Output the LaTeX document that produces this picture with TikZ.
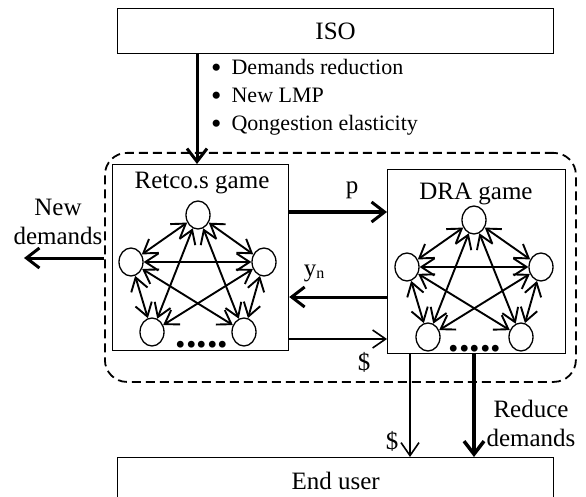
\documentclass[tikz,border=0pt]{standalone}
\usepackage{fontspec}
\usepackage{graphicx}
\setmainfont{Liberation Serif}
\usetikzlibrary{arrows.meta,shapes.geometric}
\newcommand{\bigbul}{\raisebox{-0.14em}{\scalebox{1.35}{\textbullet}}}
\begin{document}
\begin{tikzpicture}[x=1pt,y=-1pt,
  box/.style={draw,line width=1.2pt,inner sep=0pt,anchor=north west},
  gnode/.style={draw,ellipse,line width=1.3pt,minimum width=24pt,minimum height=28pt,inner sep=0pt},
  gedge/.style={line width=1.9pt,{Straight Barb[length=13pt,width=17pt]}-{Straight Barb[length=13pt,width=17pt]}},
  big/.style={font=\fontsize{25}{29}\selectfont},
  small/.style={font=\fontsize{22}{28}\selectfont},
  thickarrow/.style={line width=3pt,-{Straight Barb[length=13pt,width=20pt]}},
  thinarrow/.style={line width=1.6pt,-{Straight Barb[length=13pt,width=18pt]}},
  dots/.style={font=\fontsize{42}{42}\selectfont\bfseries,inner sep=0pt,anchor=base},
]
\useasboundingbox (0,0) rectangle (586,497);
% big boxes
\node[box,minimum width=436pt,minimum height=45pt,big] (iso) at (117,8) {ISO};
\node[box,minimum width=436pt,minimum height=46pt,big] (eu) at (117,457) {End user};
% dashed group
\node[draw,dash pattern=on 9pt off 5pt,line width=1.8pt,rounded corners=22pt,
      minimum width=471pt,minimum height=229pt,anchor=north west,inner sep=0pt] (grp) at (104,152) {};
% game boxes
\node[box,minimum width=176pt,minimum height=186pt] (retco) at (112,164) {};
\node[box,minimum width=178pt,minimum height=184pt] (dra) at (387,169) {};
\node[big,inner sep=0pt] (rtitle) at (202,183) {Retco.s game};
\node[big,inner sep=0pt] (dtitle) at (476,194) {DRA game};
% Retco graph
\node[gnode] (rT) at (198,215) {};
\node[gnode] (rL) at (131,262) {};
\node[gnode] (rR) at (264,262) {};
\node[gnode] (rBL) at (152,332) {};
\node[gnode] (rBR) at (244,332) {};
\node[dots] (rdots) at (202,347) {.....};
\foreach \a/\b in {T/L,T/R,L/R,L/BL,R/BR,T/BL,T/BR,L/BR,R/BL}
  \draw[gedge] (r\a) -- (r\b);
% DRA graph
\node[gnode] (dT) at (474,220) {};
\node[gnode] (dL) at (407,267) {};
\node[gnode] (dR) at (541,267) {};
\node[gnode] (dBL) at (428,337) {};
\node[gnode] (dBR) at (521,337) {};
\node[dots] (ddots) at (475,351) {.....};
\foreach \a/\b in {T/L,T/R,L/R,L/BL,R/BR,T/BL,T/BR,L/BR,R/BL}
  \draw[gedge] (d\a) -- (d\b);
% ISO arrow and bullets
\coordinate (ax) at (197,0);
\draw[thickarrow] (iso.south -| ax) -- (retco.north -| ax);
\node[small,anchor=north west,align=left,inner sep=0pt] (blist) at (211,59)
  {\bigbul\hspace{10pt}Demands reduction\\\bigbul\hspace{10pt}New LMP\\\bigbul\hspace{10pt}Qongestion elasticity};
% arrows between boxes
\coordinate (py) at (0,212);
\coordinate (yy) at (0,297);
\coordinate (sy) at (0,339);
\draw[thickarrow] (retco.east |- py) -- (dra.west |- py);
\draw[thickarrow] (dra.west |- yy) -- (retco.east |- yy);
\draw[thinarrow] (retco.east |- sy) -- (dra.west |- sy);
\node[big,inner sep=0pt] (plab) at (352,190) {p};
\node[big,inner sep=0pt] (ylab) at (314,273) {y\raisebox{-0.25ex}{\fontsize{16}{16}\selectfont n}};
\node[big,inner sep=0pt] (slab) at (364,362) {\$};
% new demands
\coordinate (nd) at (24,258);
\draw[thickarrow] (grp.west |- nd) -- (nd);
\node[big,align=center,inner sep=0pt] (ndlab) at (58,222) {New\\demands};
% down arrows
\coordinate (dx1) at (410,0);
\coordinate (dx2) at (474,0);
\draw[thinarrow] (dra.south -| dx1) -- (eu.north -| dx1);
\draw[line width=3.5pt,-{Straight Barb[length=13pt,width=20pt]}] (dra.south -| dx2) -- (eu.north -| dx2);
\node[big,inner sep=0pt] (s2lab) at (392,441) {\$};
\node[big,align=center,inner sep=0pt] (rdlab) at (531,423) {Reduce\\demands};
\end{tikzpicture}
\end{document}
